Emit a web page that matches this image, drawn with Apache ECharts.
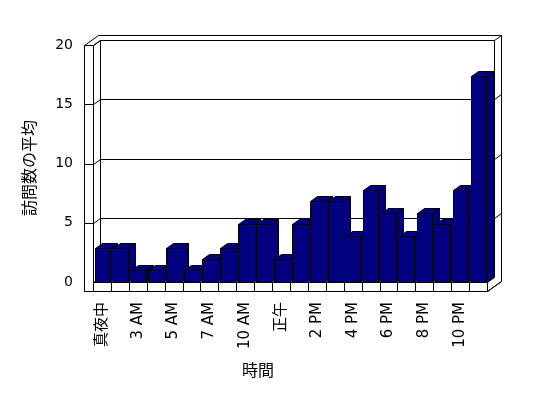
<!DOCTYPE html>
<html>
<head>
<meta charset="utf-8">
<script src="https://cdn.jsdelivr.net/npm/echarts@6/dist/echarts.min.js"></script>
<style>html,body{margin:0;padding:0;background:#fff;}#c{width:548px;height:398px;}</style>
</head>
<body>
<div id="c"></div>
<script>
const categories = ['真夜中','1 AM','3 AM','4 AM','5 AM','6 AM','7 AM','9 AM','10 AM','11 AM','正午','1 PM','2 PM','3 PM','4 PM','5 PM','6 PM','7 PM','8 PM','9 PM','10 PM','11 PM'];
const values = [2.9, 2.9, 1.0, 1.0, 2.9, 1.0, 1.9, 2.9, 4.9, 4.9, 1.9, 4.9, 6.8, 6.8, 3.9, 7.8, 5.8, 3.9, 5.8, 4.9, 7.8, 17.4];
const yTicks = [0, 5, 10, 15, 20];
const yName = '訪問数の平均';
const xName = '時間';

const FONT = '"Noto Sans CJK JP", "Noto Sans", sans-serif';
const LABEL_FONT = '"DejaVu Sans", "Noto Sans CJK JP", sans-serif';
const DX = 7, DY = -5;      // depth offset
const TX = 9, TY = 9;       // frame strip thickness
const BAR_FILL = '#000080';
const s = v => Math.round(v) + 0.5;
const lineStyle = { stroke: '#000', lineWidth: 1, fill: null };

function ln(x1, y1, x2, y2) {
  return { type: 'line', shape: { x1: s(x1), y1: s(y1), x2: s(x2), y2: s(y2) }, style: lineStyle };
}

function renderBack(params, api) {
  const g = params.coordSys;
  const L = g.x, T = g.y, R = g.x + g.width, B = g.y + g.height;
  const ch = [];
  ch.push({ type: 'polygon', shape: { points: [[s(L - TX), s(T)], [s(L - TX + 2 * DX), s(T + 2 * DY)], [s(R + 2 * DX), s(T + 2 * DY)], [s(R + 2 * DX), s(B + TY + 2 * DY)], [s(R), s(B + TY)], [s(L - TX), s(B + TY)]] }, style: { fill: '#fff', stroke: '#000', lineWidth: 1 } });
  ch.push(ln(L + DX, T + DY, R + DX, T + DY));
  ch.push(ln(L + DX, T + DY, L + DX, B + DY));
  ch.push(ln(R + DX, T + DY, R + DX, B + DY));
  ch.push(ln(R + DX, T + DY, R + 2 * DX, T + 2 * DY));
  ch.push(ln(L, T, L + DX, T + DY));
  ch.push(ln(L, T, L, B));
  ch.push(ln(L - TX, T, L, T));
  yTicks.forEach(v => {
    const y = api.coord([0, v])[1];
    if (v > 0 && v < 20) {
      ch.push(ln(L + DX, y + DY, R + DX, y + DY));
      ch.push(ln(R + DX, y + DY, R + 2 * DX, y + 2 * DY));
      ch.push(ln(L - TX, y, L, y));
    }
    ch.push(ln(L, y, L + DX, y + DY));
  });
  ch.push(ln(R, B, R + DX, B + DY));
  return { type: 'group', children: ch };
}

function renderFront(params, api) {
  const g = params.coordSys;
  const L = g.x, R = g.x + g.width, B = g.y + g.height;
  const bw = api.size([1, 0])[0];
  const ch = [];
  ch.push({ type: 'rect', shape: { x: s(L), y: s(B), width: s(R) - s(L), height: TY }, style: { fill: '#fff', stroke: '#000', lineWidth: 1 } });
  for (let k = 1; k < categories.length; k++) {
    ch.push(ln(L + k * bw, B, L + k * bw, B + TY));
  }
  ch.push(ln(R, B + TY, R + 2 * DX, B + TY + 2 * DY));
  return { type: 'group', children: ch };
}

function renderBar(params, api) {
  const i = api.value(0), v = api.value(1);
  const top = api.coord([i, v]);
  const base = api.coord([i, 0]);
  const bw = api.size([1, 0])[0];
  const x0 = s(top[0] - bw / 2 + 1.7);
  const x1 = x0 + Math.round(bw * 0.84);
  const yt = s(top[1]), yb = s(base[1]);
  const st = { fill: BAR_FILL, stroke: '#000', lineWidth: 1 };
  return {
    type: 'group', children: [
      { type: 'polygon', shape: { points: [[x1, yt], [x1 + DX, yt + DY], [x1 + DX, yb + DY], [x1, yb]] }, style: st },
      { type: 'polygon', shape: { points: [[x0, yt], [x1, yt], [x1 + DX, yt + DY], [x0 + DX, yt + DY]] }, style: st },
      { type: 'rect', shape: { x: x0, y: yt, width: x1 - x0, height: yb - yt }, style: st }
    ]
  };
}

const chart = echarts.init(document.getElementById('c'), null, { renderer: 'canvas' });
chart.setOption({
  animation: false,
  backgroundColor: '#fff',
  grid: { left: 93, right: 61, top: 45, bottom: 116, containLabel: false },
  xAxis: {
    type: 'category', data: categories, boundaryGap: true,
    axisLine: { show: false }, axisTick: { show: false },
    axisLabel: { interval: 1, rotate: 90, margin: 20, fontSize: 15, color: '#000', fontFamily: LABEL_FONT },
    name: xName, nameLocation: 'middle', nameGap: 80,
    nameTextStyle: { fontSize: 16, color: '#000', fontFamily: FONT, padding: [0, 64, 0, 0] }
  },
  yAxis: {
    type: 'value', min: 0, max: 20, interval: 5,
    axisLine: { show: false }, axisTick: { show: false }, splitLine: { show: false },
    axisLabel: { margin: 20, fontSize: 14, color: '#000', fontFamily: LABEL_FONT },
    name: yName, nameLocation: 'middle', nameGap: 56,
    nameTextStyle: { fontSize: 16, color: '#000', fontFamily: FONT, padding: [0, 9, 0, 0] }
  },
  series: [
    { type: 'custom', z: 1, renderItem: renderBack, data: [[0, 0]], silent: true },
    { type: 'custom', z: 2, renderItem: renderBar, data: values.map((v, i) => [i, v]), encode: { x: 0, y: 1 } },
    { type: 'custom', z: 3, renderItem: renderFront, data: [[0, 0]], silent: true }
  ]
});
</script>
</body>
</html>
